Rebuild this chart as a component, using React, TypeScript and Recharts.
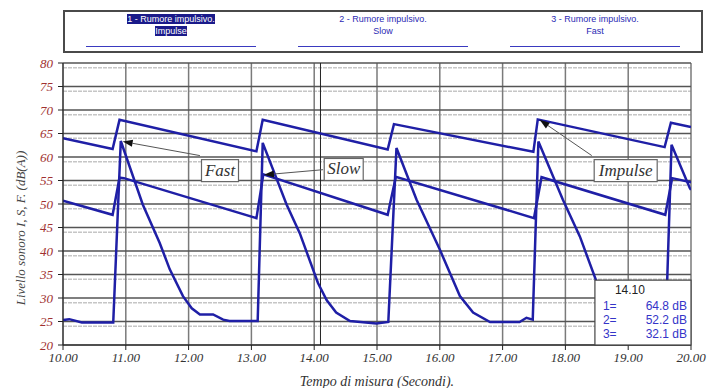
import React from "react";
import {
  LineChart,
  Line,
  XAxis,
  YAxis,
  CartesianGrid,
  ReferenceLine,
  ReferenceDot,
  ReferenceArea,
} from "recharts";

// time axis (seconds) and level axis (dB(A))
const X_TICKS = [10, 11, 12, 13, 14, 15, 16, 17, 18, 19, 20];
const Y_TICKS = [20, 25, 30, 35, 40, 45, 50, 55, 60, 65, 70, 75, 80];
const Y_MINOR = Array.from({ length: 61 }, (_, i) => 20 + i).filter((v) => v % 5 !== 0);

// [time, level]
const IMPULSE: [number, number][] = [
  [10.0, 64.0], [10.79, 61.7], [10.9, 67.9], [13.08, 61.2], [13.18, 67.9],
  [15.17, 61.6], [15.27, 67.0], [17.49, 61.1], [17.56, 68.0], [19.58, 62.1],
  [19.68, 67.3], [20.0, 66.4],
];

const SLOW: [number, number][] = [
  [10.0, 50.7], [10.79, 47.7], [10.9, 55.6], [10.97, 55.5], [13.08, 47.0],
  [13.19, 56.3], [15.17, 47.7], [15.3, 55.8], [17.5, 47.0], [17.62, 55.7],
  [19.59, 47.7], [19.7, 55.5], [20.0, 54.6],
];

const FAST: [number, number][] = [
  [10.0, 25.3], [10.1, 25.5], [10.3, 24.8], [10.8, 24.8], [10.92, 63.4],
  [11.27, 49.9], [11.54, 41.7], [11.7, 36.1], [11.91, 30.4], [12.05, 27.8],
  [12.18, 26.5], [12.39, 26.5], [12.55, 25.4], [12.65, 25.1], [13.1, 25.1],
  [13.18, 63.0], [13.56, 49.9], [13.77, 43.8], [14.06, 33.2], [14.2, 29.5],
  [14.35, 26.9], [14.57, 25.1], [14.99, 24.6], [15.18, 24.9], [15.31, 61.9],
  [15.63, 50.9], [16.0, 40.3], [16.32, 30.4], [16.53, 26.9], [16.8, 24.9],
  [17.27, 24.9], [17.38, 25.8], [17.48, 25.4], [17.57, 63.3], [17.96, 50.9],
  [18.23, 43.1], [18.6, 29.7], [18.8, 26.5], [19.05, 25.0], [19.6, 25.0],
  [19.69, 62.6], [19.98, 53.4], [20.0, 53.0],
];

const LEGEND = [
  { title: "1 - Rumore impulsivo.", sub: "Impulse", selected: true },
  { title: "2 - Rumore impulsivo.", sub: "Slow", selected: false },
  { title: "3 - Rumore impulsivo.", sub: "Fast", selected: false },
];

const CURSOR_TIME = 14.1;
const CURSOR_LABEL = "14.10";
const CURSOR_VALUES = ["64.8 dB", "52.2 dB", "32.1 dB"];

// callouts: box centre, arrow start and arrow tip, in data units
const NOTES = [
  { text: "Fast", box: [12.5, 57.1], from: [12.18, 60.3], to: [10.95, 63.3], w: 37 },
  { text: "Slow", box: [14.47, 57.35], from: [14.14, 57.3], to: [13.2, 56.2], w: 39 },
  { text: "Impulse", box: [18.96, 57.1], from: [18.42, 60.3], to: [17.59, 67.9], w: 63 },
];

const BLUE = "#1f1fa6";
const SERIF = "'Liberation Serif', 'Times New Roman', serif";
const SANS = "'Liberation Sans', Arial, sans-serif";

const toPts = (arr: [number, number][]) => arr.map(([t, v]) => ({ t, v }));

const Arrow = (p: any) => {
  const { x1, y1, x2, y2 } = p;
  const a = Math.atan2(y2 - y1, x2 - x1);
  const len = 10;
  const half = 3.5;
  const bx = x2 - len * Math.cos(a);
  const by = y2 - len * Math.sin(a);
  const nx = -Math.sin(a) * half;
  const ny = Math.cos(a) * half;
  return (
    <g>
      <line x1={x1} y1={y1} x2={bx} y2={by} stroke="#555" strokeWidth={1} />
      <polygon
        points={`${x2},${y2} ${bx + nx},${by + ny} ${bx - nx},${by - ny}`}
        fill="#111"
      />
    </g>
  );
};

const noteBox = (text: string, w: number) => (p: any) => (
  <g>
    <rect
      x={p.cx - w / 2}
      y={p.cy - 11}
      width={w}
      height={22}
      fill="#fff"
      stroke="#666"
      strokeWidth={1.2}
    />
    <text
      x={p.cx}
      y={p.cy + 5}
      textAnchor="middle"
      fontFamily={SERIF}
      fontStyle="italic"
      fontSize={17}
      fill="#333"
    >
      {text}
    </text>
  </g>
);

const InfoBox = (p: any) => {
  const { x, y, width, height } = p;
  return (
    <g>
      <rect x={x} y={y} width={width} height={height} fill="#fff" stroke="#444" strokeWidth={1.2} />
      <text x={x + 35} y={y + 14} textAnchor="middle" fontFamily={SANS} fontSize={12} fill="#222">
        {CURSOR_LABEL}
      </text>
      {CURSOR_VALUES.map((v, i) => (
        <g key={i} fontFamily={SANS} fontSize={12} fill="#3434c8">
          <text x={x + 8} y={y + 30 + i * 14}>{`${i + 1}=`}</text>
          <text x={x + width - 4} y={y + 30 + i * 14} textAnchor="end">
            {v}
          </text>
        </g>
      ))}
    </g>
  );
};

const YTitle = (props: any) => {
  const vb = props.viewBox || { x: 0, y: 63, width: 63, height: 282 };
  const cx = vb.x + 20;
  const cy = vb.y + vb.height / 2 + 24;
  return (
    <text
      x={cx}
      y={cy}
      transform={`rotate(-90 ${cx} ${cy})`}
      textAnchor="middle"
      dominantBaseline="central"
      fontFamily={SERIF}
      fontStyle="italic"
      fontSize={13}
      fill="#444"
    >
      Livello sonoro I, S, F.  (dB(A))
    </text>
  );
};

const Header: React.FC = () => (
  <div
    style={{
      position: "absolute",
      left: 63,
      top: 10,
      width: 640,
      height: 43,
      border: "2px solid #4a4a4a",
      boxSizing: "border-box",
      display: "flex",
      background: "#fff",
    }}
  >
    {LEGEND.map((item) => {
      const hl = item.selected ? { background: "#1a1a8a", color: "#fff" } : {};
      return (
        <div
          key={item.title}
          style={{
            flex: 1,
            textAlign: "center",
            fontFamily: SANS,
            fontSize: 9,
            color: "#2a2ab4",
            paddingTop: 1,
          }}
        >
          <div style={{ lineHeight: "12px" }}>
            <span style={hl}>{item.title}</span>
          </div>
          <div style={{ lineHeight: "12px" }}>
            <span style={hl}>{item.sub}</span>
          </div>
          <div style={{ margin: "9px auto 0", width: "80%", height: 1, background: "#3a3ac0" }} />
        </div>
      );
    })}
  </div>
);

export default function App() {
  return (
    <div
      style={{
        position: "absolute",
        left: 0,
        top: 0,
        width: 707,
        height: 388,
        background: "#fff",
        overflow: "hidden",
      }}
    >
      <LineChart width={707} height={388} margin={{ top: 63, right: 16, bottom: 0, left: 0 }}>
        <CartesianGrid
          vertical={false}
          horizontalValues={Y_MINOR}
          stroke="#c6c6c6"
          strokeDasharray="4 1"
          strokeWidth={1.5}
        />
        <CartesianGrid horizontal={false} verticalValues={X_TICKS} stroke="#7a7a7a" strokeWidth={1.5} />
        <CartesianGrid vertical={false} horizontalValues={Y_TICKS} stroke="#555" strokeWidth={1.5} />
        <XAxis
          type="number"
          dataKey="t"
          domain={[10, 20]}
          ticks={X_TICKS}
          allowDataOverflow
          height={43}
          tickSize={5}
          tickMargin={3}
          stroke="#222"
          tickFormatter={(v: number) => v.toFixed(2)}
          tick={{ fill: "#333", fontFamily: SERIF, fontStyle: "italic", fontSize: 13 }}
          label={{
            value: "Tempo di misura (Secondi).",
            position: "insideBottom",
            offset: 2,
            fill: "#333",
            fontFamily: SERIF,
            fontStyle: "italic",
            fontSize: 14,
          }}
        />
        <YAxis
          type="number"
          domain={[20, 80]}
          ticks={Y_TICKS}
          allowDataOverflow
          width={63}
          tickSize={5}
          tickMargin={5}
          stroke="#222"
          tick={{ fill: "#a03030", fontFamily: SERIF, fontStyle: "italic", fontSize: 13 }}
          label={{ content: YTitle }}
        />
        <ReferenceLine x={CURSOR_TIME} stroke="#222" strokeWidth={1} />
        <Line data={toPts(IMPULSE)} dataKey="v" type="linear" stroke={BLUE} strokeWidth={2.5} dot={false} isAnimationActive={false} />
        <Line data={toPts(SLOW)} dataKey="v" type="linear" stroke={BLUE} strokeWidth={2.5} dot={false} isAnimationActive={false} />
        <Line data={toPts(FAST)} dataKey="v" type="linear" stroke={BLUE} strokeWidth={2.5} dot={false} isAnimationActive={false} />
        {NOTES.map((n) => (
          <ReferenceLine
            key={`a-${n.text}`}
            segment={[
              { x: n.from[0], y: n.from[1] },
              { x: n.to[0], y: n.to[1] },
            ]}
            shape={Arrow}
            zIndex={1500}
          />
        ))}
        {NOTES.map((n) => (
          <ReferenceDot
            key={`b-${n.text}`}
            x={n.box[0]}
            y={n.box[1]}
            shape={noteBox(n.text, n.w)}
            zIndex={1600}
          />
        ))}
        <ReferenceArea x1={18.47} x2={20} y1={20} y2={33.8} shape={InfoBox} zIndex={1700} />
      </LineChart>
      <Header />
    </div>
  );
}
